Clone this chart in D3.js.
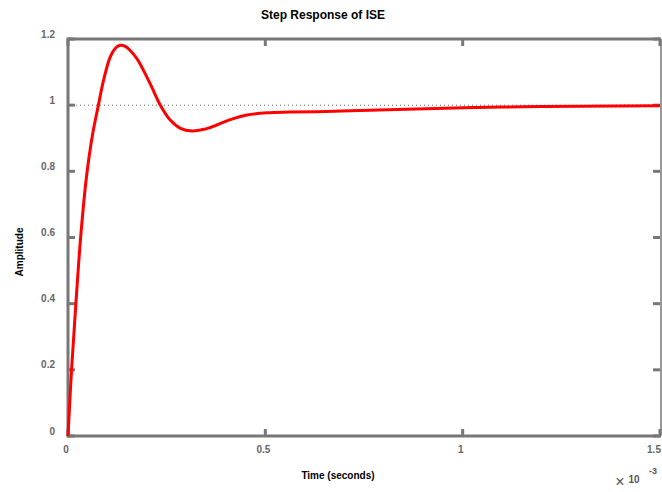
<!DOCTYPE html>
<html>
<head>
<meta charset="utf-8">
<script src="https://cdn.jsdelivr.net/npm/d3@7"></script>
<style>
  body { margin: 0; background: #fff; }
  svg { font-family: "Liberation Sans", Arial, sans-serif; }
</style>
</head>
<body>
<svg width="662" height="492"></svg>
<script>
// time in units of 1e-3 s, amplitude
const timeMs = [0, 0.009, 0.020, 0.032, 0.047, 0.062, 0.077, 0.090, 0.107, 0.120, 0.132, 0.145, 0.157, 0.175, 0.191, 0.212, 0.234, 0.259, 0.285, 0.314, 0.345, 0.377, 0.415, 0.453, 0.504, 0.56, 0.631, 0.716, 0.834, 1.0, 1.15, 1.3, 1.5];
const amplitude = [0, 0.2, 0.4, 0.6, 0.785, 0.91, 1.0, 1.075, 1.146, 1.172, 1.181, 1.178, 1.166, 1.14, 1.106, 1.055, 1.0, 0.955, 0.93, 0.922, 0.927, 0.94, 0.958, 0.97, 0.977, 0.979, 0.98, 0.983, 0.987, 0.992, 0.995, 0.997, 0.998];
const xTicks = [0, 0.5, 1, 1.5];
const yTicks = [0, 0.2, 0.4, 0.6, 0.8, 1, 1.2];

const svg = d3.select("svg");
const plotL = 68, plotR = 660, plotT = 39, plotB = 436;
const axisColor = "#777";

const x = d3.scaleLinear().domain([0, 1.5]).range([plotL, plotR]);
const y = d3.scaleLinear().domain([0, 1.2]).range([plotB, plotT]);

const data = timeMs.map((t, i) => ({t: t, a: amplitude[i]}));

// dotted reference at steady state
svg.append("line")
    .attr("x1", x(0)).attr("x2", x(1.5))
    .attr("y1", y(1)).attr("y2", y(1))
    .attr("stroke", "#666").attr("stroke-width", 1)
    .attr("stroke-dasharray", "1,3");

// box
svg.append("line").attr("x1", plotL).attr("x2", plotR + 1).attr("y1", plotT).attr("y2", plotT)
    .attr("stroke", axisColor).attr("stroke-width", 3);
svg.append("line").attr("x1", plotL).attr("x2", plotR + 1).attr("y1", plotB).attr("y2", plotB)
    .attr("stroke", axisColor).attr("stroke-width", 3);
svg.append("line").attr("x1", plotL).attr("x2", plotL).attr("y1", plotT - 1.5).attr("y2", plotB + 1.5)
    .attr("stroke", axisColor).attr("stroke-width", 3);
svg.append("line").attr("x1", plotR + 1).attr("x2", plotR + 1).attr("y1", plotT).attr("y2", plotB)
    .attr("stroke", axisColor).attr("stroke-width", 1.5);

// ticks (inward, all four sides)
const tickLen = 7;
yTicks.forEach(v => {
    svg.append("line").attr("x1", plotL).attr("x2", plotL + tickLen).attr("y1", y(v)).attr("y2", y(v))
        .attr("stroke", axisColor).attr("stroke-width", 3);
    svg.append("line").attr("x1", plotR).attr("x2", plotR - tickLen).attr("y1", y(v)).attr("y2", y(v))
        .attr("stroke", axisColor).attr("stroke-width", 3);
    svg.append("text")
        .attr("x", 55).attr("y", y(v) - 5).attr("dy", "0.35em")
        .attr("text-anchor", "end")
        .attr("font-size", 10).attr("font-weight", "bold").attr("fill", "#666")
        .text(v);
});
xTicks.forEach(v => {
    svg.append("line").attr("x1", x(v)).attr("x2", x(v)).attr("y1", plotB).attr("y2", plotB - tickLen)
        .attr("stroke", axisColor).attr("stroke-width", 3);
    svg.append("line").attr("x1", x(v)).attr("x2", x(v)).attr("y1", plotT).attr("y2", plotT + tickLen)
        .attr("stroke", axisColor).attr("stroke-width", 3);
    svg.append("text")
        .attr("x", v === 1.5 ? x(v) - 6 : x(v) - 2).attr("y", 449).attr("dy", "0.35em")
        .attr("text-anchor", "middle")
        .attr("font-size", 10).attr("font-weight", "bold").attr("fill", "#666")
        .text(v);
});

// response curve
const line = d3.line()
    .x(d => x(d.t))
    .y(d => y(d.a))
    .curve(d3.curveCatmullRom.alpha(0.5));

svg.append("path")
    .datum(data)
    .attr("d", line)
    .attr("fill", "none")
    .attr("stroke", "#ff0000")
    .attr("stroke-width", 3)
    .attr("stroke-linejoin", "round");

// labels
svg.append("text")
    .attr("x", 323).attr("y", 15).attr("dy", "0.35em")
    .attr("text-anchor", "middle")
    .attr("font-size", 12).attr("font-weight", "bold")
    .text("Step Response of ISE");

svg.append("text")
    .attr("x", 338).attr("y", 475).attr("dy", "0.35em")
    .attr("text-anchor", "middle")
    .attr("font-size", 10).attr("font-weight", "bold")
    .text("Time (seconds)");

svg.append("text")
    .attr("transform", "translate(19,252) rotate(-90)")
    .attr("dy", "0.35em")
    .attr("text-anchor", "middle")
    .attr("font-size", 10).attr("font-weight", "bold")
    .text("Amplitude");

// exponent marker
svg.append("text")
    .attr("x", 620).attr("y", 481).attr("dy", "0.35em")
    .attr("text-anchor", "middle")
    .attr("font-size", 16).attr("fill", "#555")
    .text("\u00d7");
svg.append("text")
    .attr("x", 634).attr("y", 479).attr("dy", "0.35em")
    .attr("text-anchor", "middle")
    .attr("font-size", 10).attr("font-weight", "bold").attr("fill", "#555")
    .text("10");
svg.append("text")
    .attr("x", 653).attr("y", 471).attr("dy", "0.35em")
    .attr("text-anchor", "middle")
    .attr("font-size", 9).attr("font-weight", "bold").attr("fill", "#555")
    .text("-3");
</script>
</body>
</html>
